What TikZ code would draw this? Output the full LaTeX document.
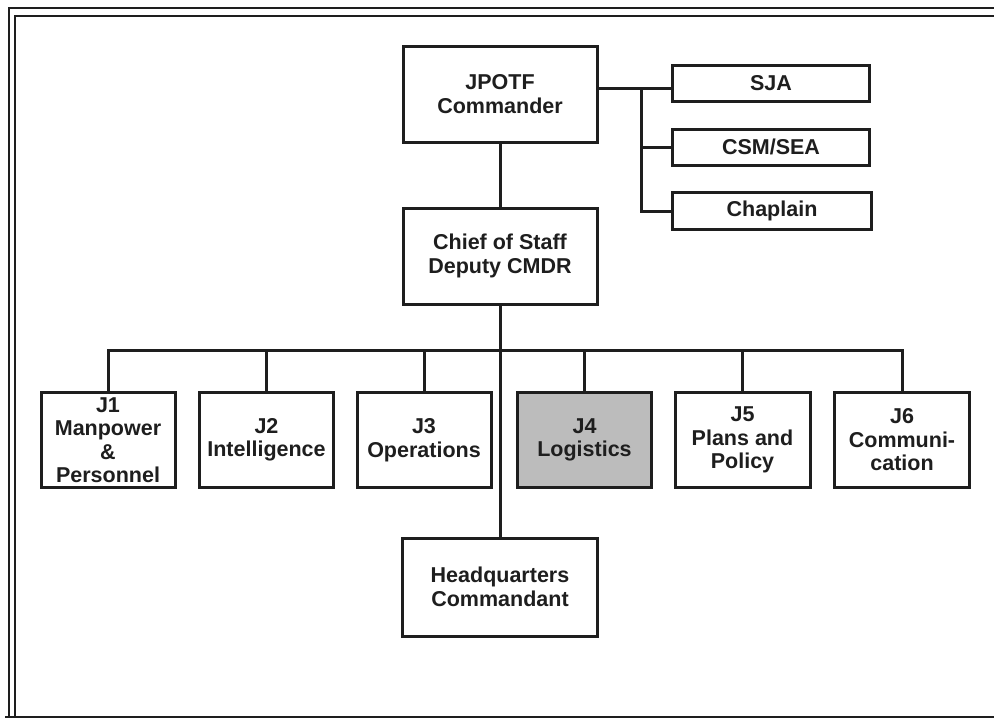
\documentclass[tikz,border=0pt]{standalone}
\usepackage{fontspec}
\setmainfont{Liberation Sans}
\usetikzlibrary{positioning}

\definecolor{inkgray}{RGB}{30,30,30}
\definecolor{shadegray}{RGB}{188,188,188}

\begin{document}
\begin{tikzpicture}[x=1pt,y=-1pt,
	unit/.style={draw=inkgray, line width=3pt, fill=white, align=center, inner sep=0pt,
		font=\fontsize{21.5}{23.5}\selectfont\bfseries, text=inkgray},
	big/.style={unit, minimum width=194pt, minimum height=96pt},
	staff/.style={unit, minimum width=197pt, minimum height=36pt},
	jbox/.style={unit, minimum width=134pt, minimum height=95pt},
	link/.style={draw=inkgray, line width=3pt}]
	\useasboundingbox (0,0) rectangle (994,724);

	% frame
	\draw[line width=1.8pt, inkgray] (9,717) -- (9,8) -- (994,8);
	\draw[line width=1.8pt, inkgray] (15,717) -- (15,16) -- (994,16);
	\draw[line width=2.2pt, inkgray] (5,717) -- (994,717);

	% command group
	\node[big] (cmdr) at (500,94) {JPOTF\\Commander};
	\node[big] (cos) at (500,256) {Chief of Staff\\Deputy CMDR};
	\node[staff] (sja) at (771,83) {SJA};
	\node[staff] (csm) at (771,147) {CSM/SEA};
	\node[staff, minimum width=199pt, minimum height=37pt] (chap) at (772,211) {Chaplain};

	% staff sections
	\node[jbox] (j1) at (108,440) {J1\\Manpower\\\&\\Personnel};
	\node[jbox] (j2) at (266.5,440) {J2\\Intelligence};
	\node[jbox] (j3) at (424,440) {J3\\Operations};
	\node[jbox, fill=shadegray] (j4) at (584.5,440) {J4\\Logistics};
	\node[jbox, minimum width=135pt] (j5) at (742.5,440) {J5\\Plans and\\Policy};
	\node[jbox, minimum width=135pt] (j6) at (902,440) {J6\\Communi-\\cation};

	\node[big, minimum width=195pt, minimum height=98pt] (hq) at (500,587) {Headquarters\\Commandant};

	\coordinate (side) at (641,88);
	\coordinate (bus) at (500,350);

	% connectors
	\draw[link] (cmdr) -- (cos);
	\draw[link] (cmdr.east |- side) -- (sja.west |- side);
	\draw[link] (side) |- (chap.west);
	\draw[link] (side |- csm.west) -- (csm.west);
	\draw[link] (cos) -- (hq);
	\draw[link] (j1.north) |- (bus) -| (j6.north);
	\draw[link] (j2.north) -- (j2.north |- bus);
	\draw[link] (j3.north) -- (j3.north |- bus);
	\draw[link] (j4.north) -- (j4.north |- bus);
	\draw[link] (j5.north) -- (j5.north |- bus);

\end{tikzpicture}
\end{document}
